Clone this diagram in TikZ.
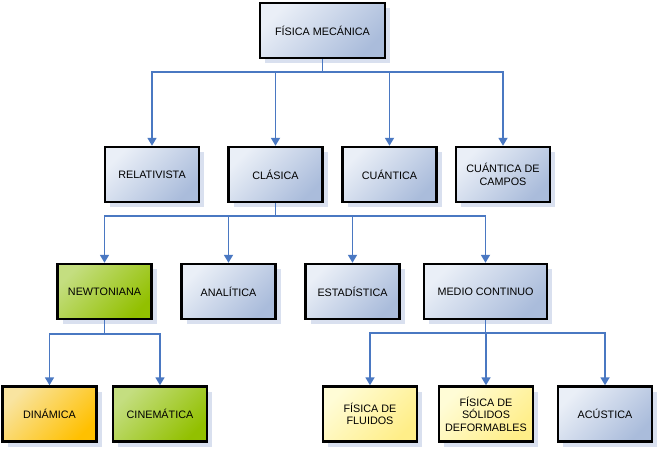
\documentclass[tikz,border=0pt]{standalone}
\usepackage{fontspec}
\setmainfont{Liberation Sans}
\usetikzlibrary{arrows.meta,shadows}
\definecolor{linec}{HTML}{4A78C2}
\definecolor{shadc}{HTML}{D9E0EF}
\definecolor{bluelt}{HTML}{EAEFF7}
\definecolor{bluedk}{HTML}{AABCDB}
\definecolor{greenlt}{HTML}{C4DE80}
\definecolor{greendk}{HTML}{92C000}
\definecolor{orangelt}{HTML}{F9E4A0}
\definecolor{orangedk}{HTML}{FFC000}
\definecolor{yellowlt}{HTML}{FFFCD6}
\definecolor{yellowdk}{HTML}{FFEE88}
\tikzset{
  box/.style={draw=black, line width=2.4pt, minimum width=94pt, minimum height=55pt,
    align=center, inner sep=2pt,
    font=\fontsize{10.8}{12.5}\selectfont,
    drop shadow={shadow xshift=5pt, shadow yshift=-5pt, fill=shadc, opacity=1}},
  bluebox/.style={box, top color=bluelt, bottom color=bluedk, shading angle=45},
  greenbox/.style={box, top color=greenlt, bottom color=greendk, shading angle=45},
  orangebox/.style={box, top color=orangelt, bottom color=orangedk, shading angle=45},
  yellowbox/.style={box, top color=yellowlt, bottom color=yellowdk, shading angle=45},
  conn/.style={draw=linec, line width=1.7pt, -{Triangle[width=9pt,length=8pt]}}
}
\begin{document}
\begin{tikzpicture}[x=1pt,y=-1pt]
\useasboundingbox (0,0) rectangle (660,450);
% nodes
\node[bluebox, minimum width=125pt] (fm) at (322.5,30.5) {FÍSICA MECÁNICA};
\node[bluebox] (rel) at (152,174.5) {RELATIVISTA};
\node[bluebox] (cla) at (275.5,174.5) {CLÁSICA};
\node[bluebox] (cua) at (389.5,174.5) {CUÁNTICA};
\node[bluebox] (cdc) at (503,174.5) {CUÁNTICA DE\\CAMPOS};
\node[greenbox] (new) at (104.5,291.5) {NEWTONIANA};
\node[bluebox] (ana) at (228.5,291.5) {ANALÍTICA};
\node[bluebox] (est) at (352.5,291.5) {ESTADÍSTICA};
\node[bluebox, minimum width=123pt] (med) at (485.5,291.5) {MEDIO CONTINUO};
\node[orangebox] (din) at (49.5,414) {DINÁMICA};
\node[greenbox] (cin) at (160,414) {CINEMÁTICA};
\node[yellowbox] (flu) at (370,414) {FÍSICA DE\\FLUIDOS};
\node[yellowbox] (sol) at (486,414) {FÍSICA DE\\SÓLIDOS\\DEFORMABLES};
\node[bluebox] (acu) at (605,414) {ACÚSTICA};
% connectors
\foreach \c in {rel,cla,cua,cdc}
  \draw[conn] (fm.south) -- (fm.south |- 0,72) -| (\c.north);
\foreach \c in {new,ana,est,med}
  \draw[conn] (cla.south) -- (cla.south |- 0,216) -| (\c.north);
\foreach \c in {din,cin}
  \draw[conn] (new.south) -- (new.south |- 0,334) -| (\c.north);
\foreach \c in {flu,sol,acu}
  \draw[conn] (med.south) -- (med.south |- 0,333) -| (\c.north);
\end{tikzpicture}
\end{document}
